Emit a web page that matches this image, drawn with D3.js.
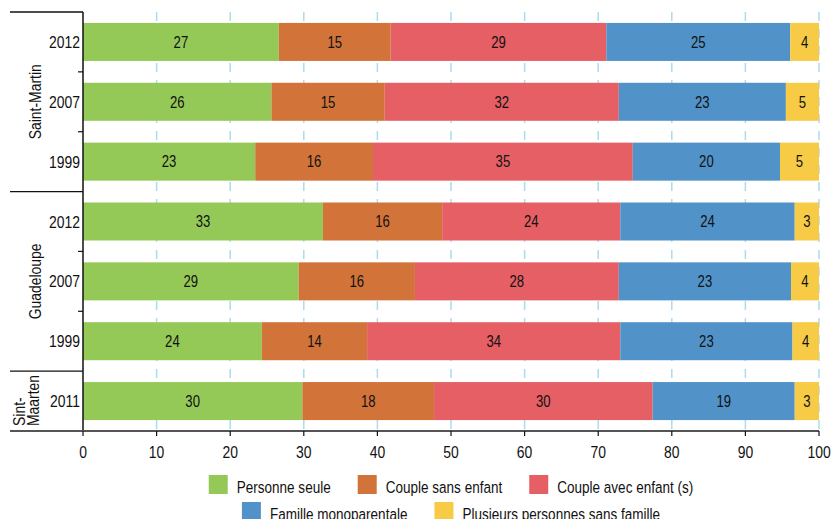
<!DOCTYPE html>
<html>
<head>
<meta charset="utf-8">
<script src="https://cdn.jsdelivr.net/npm/d3@7"></script>
<style>
  body { margin: 0; background: #fff; }
  svg text { font-family: "Liberation Sans", Arial, sans-serif; fill: #111; }
</style>
</head>
<body>
<svg id="chart" width="831" height="519"></svg>
<script>
// categories (stack order) and colours
var categories = ["Personne seule", "Couple sans enfant", "Couple avec enfant (s)", "Famille monoparentale", "Plusieurs personnes sans famille"];
var colors = ["#95c957", "#d2743a", "#e55f64", "#5193c8", "#f7cb46"];

// rows, top to bottom
var territories = ["Saint-Martin", "Saint-Martin", "Saint-Martin", "Guadeloupe", "Guadeloupe", "Guadeloupe", "Sint-Maarten"];
var years = ["2012", "2007", "1999", "2012", "2007", "1999", "2011"];

// series values (%), one per row
var personneSeule   = [26.6, 25.6, 23.4, 32.6, 29.3, 24.3, 29.8];
var coupleSansEnf   = [15.2, 15.4, 16.0, 16.2, 15.8, 14.3, 17.9];
var coupleAvecEnf   = [29.3, 31.8, 35.3, 24.2, 27.7, 34.4, 29.7];
var familleMono     = [25.0, 22.7, 20.0, 23.7, 23.4, 23.4, 19.3];
var plusieursPers   = [3.9, 4.5, 5.3, 3.3, 3.8, 3.6, 3.3];

var xTicks = [0, 10, 20, 30, 40, 50, 60, 70, 80, 90, 100];

var series = [personneSeule, coupleSansEnf, coupleAvecEnf, familleMono, plusieursPers];

var rows = years.map(function(y, i){
  var r = {key: territories[i] + "|" + y, territory: territories[i], year: y};
  categories.forEach(function(c, j){ r[c] = series[j][i]; });
  return r;
});

var svg = d3.select("#chart");
var mLeft = 83, mRight = 819, mTop = 12, mBottom = 431, labelLeft = 10;
var narrow = 0.82; // condensed look (Arial Narrow)

function place(sel, px, py, rot){
  sel.attr("transform", "translate(" + px + "," + py + ")" + (rot ? " rotate(" + rot + ")" : "") + " scale(" + narrow + ",1)");
  return sel;
}

var x = d3.scaleLinear().domain([0, 100]).range([mLeft, mRight]);
var y = d3.scaleBand().domain(rows.map(function(d){ return d.key; }))
  .range([mTop, mBottom]).paddingInner(0.365).paddingOuter(0.1825);

// gridlines
svg.append("g").attr("class", "grid")
  .selectAll("line").data(xTicks.slice(1)).enter().append("line")
  .attr("x1", function(d){ return x(d); }).attr("x2", function(d){ return x(d); })
  .attr("y1", mTop).attr("y2", mBottom)
  .attr("stroke", "#aadcef").attr("stroke-width", 1.5)
  .attr("stroke-dasharray", "9,8");

// stacked bars
var stack = d3.stack().keys(categories);
var layers = stack(rows);

var layer = svg.append("g").selectAll("g").data(layers).enter().append("g")
  .attr("fill", function(d, i){ return colors[i]; });

layer.selectAll("rect").data(function(d){ return d; }).enter().append("rect")
  .attr("x", function(d){ return x(d[0]); })
  .attr("width", function(d){ return x(d[1]) - x(d[0]); })
  .attr("y", function(d){ return y(d.data.key); })
  .attr("height", y.bandwidth());

layer.selectAll("text").data(function(d){ return d; }).enter().append("text")
  .each(function(d){
    place(d3.select(this), (x(d[0]) + x(d[1])) / 2, y(d.data.key) + y.bandwidth() / 2);
  })
  .attr("dy", "0.36em")
  .attr("text-anchor", "middle")
  .style("font-size", "16px")
  .text(function(d){ return Math.round(d[1] - d[0]); });

// left axis
var axisG = svg.append("g");
axisG.append("line").attr("x1", mLeft).attr("x2", mLeft).attr("y1", mTop).attr("y2", mBottom)
  .attr("stroke", "#111").attr("stroke-width", 1.5);

var gap = y.step() * y.paddingInner();
// row boundaries
var bounds = rows.slice(1).map(function(d, i){
  return {y: y(d.key) - gap / 2, group: d.territory !== rows[i].territory};
});
axisG.append("line").attr("x1", labelLeft).attr("x2", mLeft).attr("y1", mTop).attr("y2", mTop)
  .attr("stroke", "#111").attr("stroke-width", 1.5);
axisG.selectAll(".sep").data(bounds).enter().append("line")
  .attr("x1", function(d){ return d.group ? labelLeft : mLeft - 5; })
  .attr("x2", mLeft)
  .attr("y1", function(d){ return d.y; }).attr("y2", function(d){ return d.y; })
  .attr("stroke", "#111").attr("stroke-width", 1.2);

// year labels
axisG.selectAll(".year").data(rows).enter().append("text")
  .each(function(d){ place(d3.select(this), mLeft - 3, y(d.key) + y.bandwidth() / 2); })
  .attr("dy", "0.36em")
  .attr("text-anchor", "end")
  .style("font-size", "17px")
  .text(function(d){ return d.year; });

// territory labels
var groups = d3.groups(rows, function(d){ return d.territory; }).map(function(g){
  var k = g[1];
  var y0 = y(k[0].key) - gap / 2, y1 = y(k[k.length - 1].key) + y.bandwidth() + gap / 2;
  return {name: g[0], y0: y0, y1: Math.min(y1, mBottom)};
});
groups.forEach(function(g){
  var cy = (g.y0 + g.y1) / 2;
  var lines = g.name === "Sint-Maarten" ? ["Sint-", "Maarten"] : [g.name];
  var t = svg.append("text")
    .attr("text-anchor", lines.length > 1 ? "start" : "middle")
    .style("font-size", "17px");
  place(t, lines.length > 1 ? 19 : 35, lines.length > 1 ? g.y1 - 5 : cy, -90);
  lines.forEach(function(l, i){
    t.append("tspan").attr("x", 0).attr("dy", i === 0 ? "0.36em" : "14px").text(l);
  });
});

// bottom axis
var xAxis = svg.append("g");
xAxis.append("line").attr("x1", labelLeft).attr("x2", mRight).attr("y1", mBottom).attr("y2", mBottom)
  .attr("stroke", "#555").attr("stroke-width", 2);
xAxis.selectAll(".tick").data(xTicks).enter().append("line")
  .attr("x1", function(d){ return x(d); }).attr("x2", function(d){ return x(d); })
  .attr("y1", mBottom).attr("y2", mBottom + 5)
  .attr("stroke", "#111").attr("stroke-width", 1.2);
xAxis.selectAll("text").data(xTicks).enter().append("text")
  .each(function(d){ place(d3.select(this), x(d), 458); })
  .attr("text-anchor", "middle")
  .style("font-size", "17px")
  .text(function(d){ return d; });

// legend
var legendRows = [[0, 1, 2], [3, 4]];
var legendTop = [475, 502];
var sw = 19, txtGap = 9, itemGap = 27, cx = (mLeft + mRight) / 2;
legendRows.forEach(function(idx, r){
  var g = svg.append("g");
  var items = idx.map(function(i){
    var it = g.append("g");
    it.append("rect").attr("width", sw).attr("height", sw).attr("fill", colors[i]);
    var t = it.append("text").style("font-size", "16.5px").text(categories[i]);
    place(t, sw + txtGap, sw - 1);
    return {g: it, w: sw + txtGap + t.node().getComputedTextLength() * narrow};
  });
  var total = d3.sum(items, function(d){ return d.w; }) + itemGap * (items.length - 1);
  var pos = cx - total / 2;
  items.forEach(function(it){
    it.g.attr("transform", "translate(" + pos + "," + legendTop[r] + ")");
    pos += it.w + itemGap;
  });
});
</script>
</body>
</html>
